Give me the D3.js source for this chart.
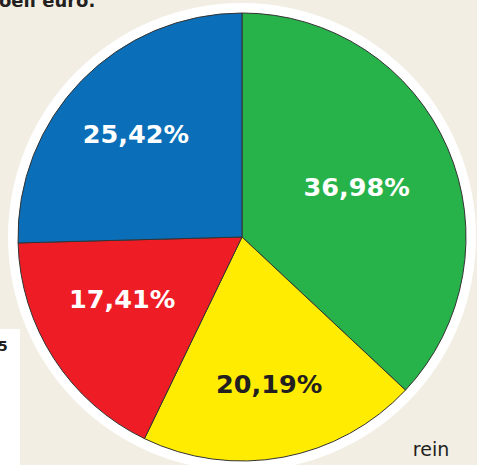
<!DOCTYPE html>
<html>
<head>
<meta charset="utf-8">
<script src="https://cdn.jsdelivr.net/npm/d3@7"></script>
<style>
  html, body { margin: 0; padding: 0; background: #f2eee3; }
  svg { display: block; }
</style>
</head>
<body>
<div id="chart"></div>
<script>
const width = 477
const height = 465

// data
const categories = ["A", "B", "C", "D"]
const values = [36.98, 20.19, 17.41, 25.42]
const labels = ["36,98%", "20,19%", "17,41%", "25,42%"]
const colors = ["#27b24a", "#ffec00", "#ee1d25", "#0a6fb8"]
const labelColors = ["#ffffff", "#231f20", "#ffffff", "#ffffff"]

// layout
const cx = 242
const cy = 237
const radius = 224
const labelRadius = [125, 149, 135, 148]
const labelShift = [0, 0, 5.5, 0] // degrees

const svg = d3.select("#chart").append("svg").attr("width", width).attr("height", height)

svg.append("rect").attr("width", width).attr("height", height).attr("fill", "#f2eee3")

// cut-off title text at the top
svg.append("text")
    .attr("x", -1).attr("y", 7)
    .attr("font-family", "DejaVu Sans, sans-serif").attr("font-weight", "bold")
    .attr("font-size", 18).attr("fill", "#231f20")
    .text("oeli euro.")

// white panel at left
svg.append("rect").attr("x", 0).attr("y", 329).attr("width", 20).attr("height", height - 329).attr("fill", "#ffffff")
svg.append("text")
    .attr("x", -2).attr("y", 351)
    .attr("font-family", "DejaVu Sans, sans-serif").attr("font-weight", "bold")
    .attr("font-size", 14).attr("fill", "#231f20")
    .text("5")

const g = svg.append("g").attr("transform", `translate(${cx}, ${cy})`)

g.append("circle").attr("r", radius + 10).attr("fill", "#ffffff")

const pie = d3.pie().sort(null).value(d => d.value)
const arc = d3.arc().innerRadius(0).outerRadius(radius)

const data = categories.map((c, i) => ({ cat: c, value: values[i], label: labels[i] }))
const arcs = pie(data)

g.selectAll("path").data(arcs).enter().append("path")
    .attr("d", arc)
    .attr("fill", (d, i) => colors[i])
    .attr("stroke", "#333333")
    .attr("stroke-width", 1)

g.selectAll("text.lbl").data(arcs).enter().append("text")
    .attr("class", "lbl")
    .attr("transform", (d, i) => {
        const a = (d.startAngle + d.endAngle) / 2 + labelShift[i] * Math.PI / 180
        const r = labelRadius[i]
        return `translate(${Math.sin(a) * r}, ${-Math.cos(a) * r})`
    })
    .attr("text-anchor", "middle")
    .attr("dy", "0.36em")
    .attr("font-family", "DejaVu Sans, sans-serif")
    .attr("font-weight", "bold")
    .attr("font-size", 25.5)
    .attr("fill", (d, i) => labelColors[i])
    .text(d => d.data.label)

svg.append("text")
    .attr("x", 431).attr("y", 456)
    .attr("text-anchor", "middle")
    .attr("font-family", "DejaVu Sans, sans-serif")
    .attr("font-size", 19).attr("fill", "#231f20")
    .text("rein")
</script>
</body>
</html>
